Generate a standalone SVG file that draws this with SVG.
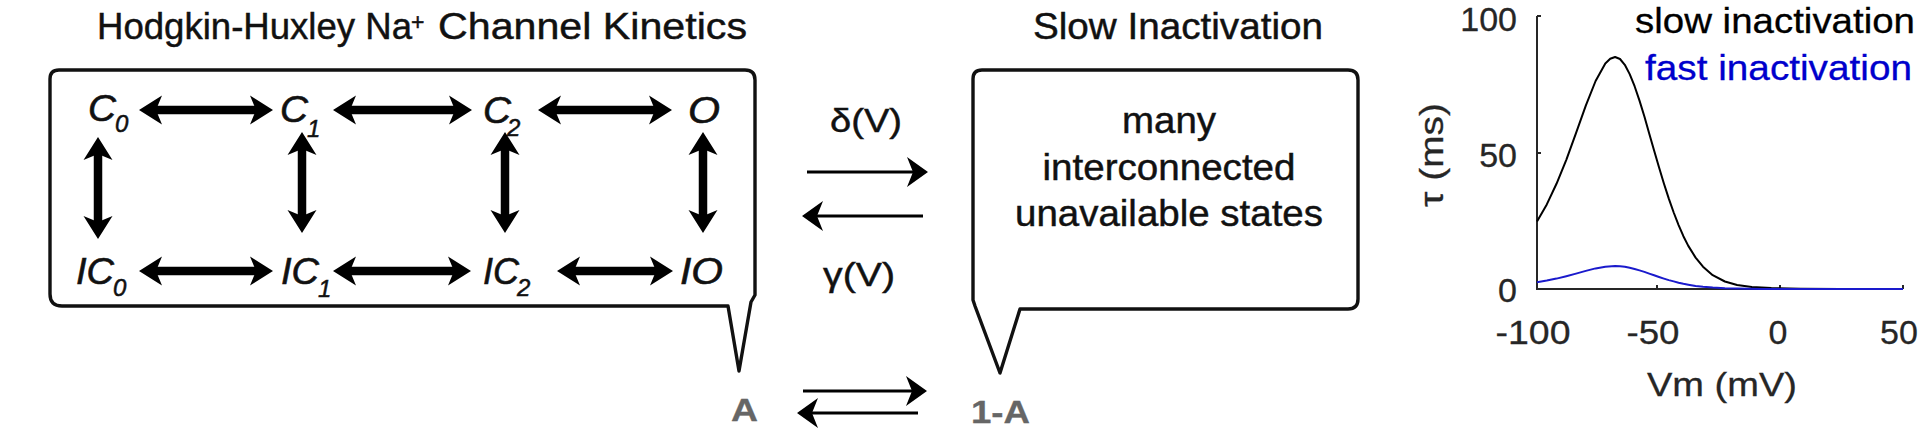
<svg xmlns="http://www.w3.org/2000/svg" width="1920" height="433" viewBox="0 0 1920 433">
<style>
text{font-family:"Liberation Sans",Arial,sans-serif;fill:#111;stroke:#111;stroke-width:0.45}
.ttl{font-size:36px}
.st{font-size:36px;font-style:italic;stroke-width:0.6}
.sb{font-size:24px;font-style:italic;stroke-width:0.5}
.box{fill:none;stroke:#111;stroke-width:3.4;stroke-linejoin:round}
.bx{font-size:36px}
.rate{font-size:33px}
.av{font-size:32px;font-weight:bold;fill:#666;stroke:#666;stroke-width:0.3}
.thick{stroke:#000;stroke-width:8.5;fill:none;marker-start:url(#hb);marker-end:url(#hb)}
.thin{stroke:#000;stroke-width:3;fill:none;marker-end:url(#ht)}
.ax{stroke:#262626;stroke-width:2;fill:none}
.tk{font-size:34px;fill:#262626;stroke:#262626;stroke-width:0.3}
.lg{font-size:35px;stroke-width:0.3}
</style>
<defs>
<marker id="hb" markerUnits="userSpaceOnUse" orient="auto-start-reverse" refX="0" refY="0" markerWidth="60" markerHeight="60" viewBox="-30 -30 60 60" overflow="visible">
<path d="M17,0 L-6,-14.5 L0,0 L-6,14.5 Z" fill="#000"/>
</marker>
<marker id="ht" markerUnits="userSpaceOnUse" orient="auto" refX="0" refY="0" markerWidth="60" markerHeight="60" viewBox="-30 -30 60 60" overflow="visible">
<path d="M15,0 L-6,-15 L0,0 L-6,15 Z" fill="#000"/>
</marker>
</defs>
<rect width="1920" height="433" fill="#fff"/>

<g id="title-hh">
<text class="ttl" x="97" y="39" textLength="315" lengthAdjust="spacingAndGlyphs">Hodgkin-Huxley Na</text>
<text x="411" y="30" style="font-size:23px">+</text>
<text class="ttl" x="438" y="39" textLength="309" lengthAdjust="spacingAndGlyphs">Channel Kinetics</text>
</g>
<g id="title-slow">
<text class="ttl" x="1033" y="39" textLength="290" lengthAdjust="spacingAndGlyphs">Slow Inactivation</text>
</g>

<g id="box-hh">
<path class="box" d="M59,70 L745,70 Q755,70 755,80 L755,295 L751,302 L739,371 L728,306 L62,306 Q50,306 50,294 L50,79 Q50,70 59,70 Z"/>
</g>
<g id="box-slow">
<path class="box" d="M982,70 L1348,70 Q1358,70 1358,80 L1358,299 Q1358,309 1348,309 L1020,309 L1000,373 L975,306 L973,300 L973,79 Q973,70 982,70 Z"/>
<text class="bx" x="1169" y="133" text-anchor="middle" textLength="94" lengthAdjust="spacingAndGlyphs">many</text>
<text class="bx" x="1169" y="180" text-anchor="middle" textLength="253" lengthAdjust="spacingAndGlyphs">interconnected</text>
<text class="bx" x="1169" y="226" text-anchor="middle" textLength="308" lengthAdjust="spacingAndGlyphs">unavailable states</text>
</g>

<g id="C0"><text class="st" x="88" y="121" textLength="28" lengthAdjust="spacingAndGlyphs">C</text><text class="sb" x="115" y="132">0</text></g>
<g id="C1"><text class="st" x="280" y="122" textLength="28" lengthAdjust="spacingAndGlyphs">C</text><text class="sb" x="307" y="137">1</text></g>
<g id="C2"><text class="st" x="483" y="123" textLength="28" lengthAdjust="spacingAndGlyphs">C</text><text class="sb" x="507" y="136">2</text></g>
<g id="O"><text class="st" x="688" y="123" textLength="32" lengthAdjust="spacingAndGlyphs">O</text></g>
<g id="IC0"><text class="st" x="76" y="284" textLength="38" lengthAdjust="spacingAndGlyphs">IC</text><text class="sb" x="113" y="296">0</text></g>
<g id="IC1"><text class="st" x="281" y="284" textLength="38" lengthAdjust="spacingAndGlyphs">IC</text><text class="sb" x="318" y="297">1</text></g>
<g id="IC2"><text class="st" x="483" y="284" textLength="36" lengthAdjust="spacingAndGlyphs">IC</text><text class="sb" x="517" y="296">2</text></g>
<g id="IO"><text class="st" x="680" y="284" textLength="43" lengthAdjust="spacingAndGlyphs">IO</text></g>

<g id="rate-delta"><text class="rate" x="830" y="132" textLength="72" lengthAdjust="spacingAndGlyphs">δ(V)</text></g>
<g id="rate-gamma"><text class="rate" x="823" y="286" textLength="72" lengthAdjust="spacingAndGlyphs">γ(V)</text></g>
<g id="A"><text class="av" x="731" y="421" textLength="27" lengthAdjust="spacingAndGlyphs">A</text></g>
<g id="one-minus-A"><text class="av" x="971" y="423" textLength="59" lengthAdjust="spacingAndGlyphs">1-A</text></g>

<g id="connectors">
<line class="thick" x1="156" y1="110" x2="256" y2="110"/>
<line class="thick" x1="350" y1="110" x2="455" y2="110"/>
<line class="thick" x1="555" y1="110" x2="655" y2="110"/>
<line class="thick" x1="156" y1="271" x2="256" y2="271"/>
<line class="thick" x1="350" y1="271" x2="454" y2="271"/>
<line class="thick" x1="574" y1="271" x2="656" y2="271"/>
<line class="thick" x1="98" y1="154" x2="98" y2="222"/>
<line class="thick" x1="302" y1="149" x2="302" y2="216"/>
<line class="thick" x1="505" y1="149" x2="505" y2="216"/>
<line class="thick" x1="703" y1="149" x2="703" y2="216"/>
<line class="thin" x1="807" y1="172" x2="913" y2="172"/>
<line class="thin" x1="923" y1="216" x2="817" y2="216"/>
<line class="thin" x1="803" y1="391" x2="912" y2="391"/>
<line class="thin" x1="918" y1="413" x2="812" y2="413"/>
</g>

<g id="chart">
<path class="ax" d="M1537,16 L1537,289 L1903,289"/>
<path class="ax" d="M1537,16 L1541,16 M1537,153 L1541,153 M1657,289 L1657,285 M1780,289 L1780,285 M1903,289 L1903,285"/>
<text class="tk" x="1517" y="31" text-anchor="end">100</text>
<text class="tk" x="1517" y="167" text-anchor="end">50</text>
<text class="tk" x="1517" y="302" text-anchor="end">0</text>
<text class="tk" x="1533" y="344" text-anchor="middle" textLength="75" lengthAdjust="spacingAndGlyphs">-100</text>
<text class="tk" x="1653" y="344" text-anchor="middle" textLength="53" lengthAdjust="spacingAndGlyphs">-50</text>
<text class="tk" x="1778" y="344" text-anchor="middle">0</text>
<text class="tk" x="1899" y="344" text-anchor="middle">50</text>
<text class="tk" x="1722" y="396" text-anchor="middle" textLength="150" lengthAdjust="spacingAndGlyphs">Vm (mV)</text>
<text class="tk" transform="translate(1443,155) rotate(-90)" text-anchor="middle" textLength="104" lengthAdjust="spacingAndGlyphs">τ (ms)</text>
<text class="lg" x="1635" y="33" style="fill:#000;stroke:#000" textLength="280" lengthAdjust="spacingAndGlyphs">slow inactivation</text>
<text class="lg" x="1645" y="80" style="fill:#0000cc;stroke:#0000cc" textLength="267" lengthAdjust="spacingAndGlyphs">fast inactivation</text>
<polyline fill="none" stroke="#000" stroke-width="2" stroke-linejoin="round" points="1537,221.4 1546.8,204.4 1556.5,183.8 1566.3,159.8 1576,133.1 1585.8,105.7 1595.6,81 1605.3,63.4 1610.2,58.8 1615.1,57 1620,59 1624.8,64.8 1629.7,74.1 1634.6,86.2 1639.5,100.6 1644.4,116.5 1649.2,133.4 1654.1,150.5 1659,167.3 1663.9,183.5 1668.8,198.6 1673.7,212.5 1678.6,225.1 1683.4,236.2 1688.3,245.9 1695.6,257.6 1703,266.7 1712.7,275.2 1724.9,281.5 1737.1,285 1751.8,287 1771.3,288.1 1800.6,288.7 1840,289 1903,289"/>
<polyline fill="none" stroke="#1a1acc" stroke-width="2" stroke-linejoin="round" points="1537,282.3 1546.8,280.6 1556.5,278.6 1566.3,276.2 1576,273.6 1585.8,270.9 1595.6,268.4 1605.3,266.7 1615.1,266.1 1620,266.3 1624.8,266.8 1629.7,267.8 1634.6,269 1639.5,270.4 1644.4,271.9 1649.2,273.6 1654.1,275.3 1659,277 1663.9,278.6 1668.8,280.1 1673.7,281.4 1678.6,282.7 1683.4,283.8 1688.3,284.7 1695.6,285.9 1703,286.8 1712.7,287.6 1724.9,288.3 1737.1,288.6 1760,289 1903,289"/>
</g>
</svg>
